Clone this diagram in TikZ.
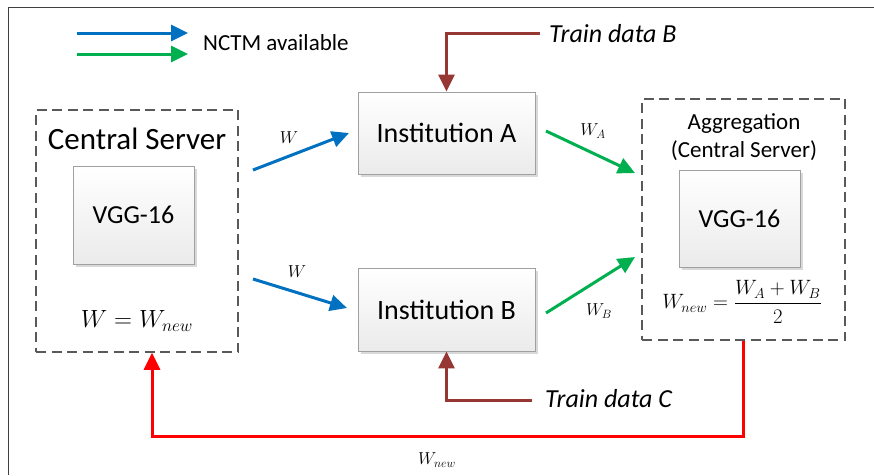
\documentclass[tikz,border=0pt]{standalone}
\usepackage{fontspec}
\setmainfont{Carlito}
\usepackage{amsmath}
\usetikzlibrary{arrows.meta,shadows,calc}
\definecolor{cblue}{RGB}{0,112,192}
\definecolor{cgreen}{RGB}{0,176,80}
\definecolor{cbrown}{RGB}{150,55,52}
\definecolor{cred}{RGB}{255,0,0}
\definecolor{dashgray}{RGB}{89,89,89}
\definecolor{boxgray}{RGB}{160,160,160}
\tikzset{
  solidbox/.style={draw=boxgray, line width=0.8pt, top color=white, bottom color=black!8,
    drop shadow={shadow xshift=3pt, shadow yshift=-3pt, opacity=0.25, fill=black!60},
    inner sep=0pt, align=center},
  dashbox/.style={draw=dashgray, line width=1.6pt, dash pattern=on 10pt off 5.5pt, inner sep=0pt},
  flow/.style={line width=3pt, -{Triangle[length=17pt,width=16pt]}},
  lbl/.style={inner sep=0pt},
}
\begin{document}
\begin{tikzpicture}[x=1pt,y=-1pt]
\useasboundingbox (0,0) rectangle (874,475);
% frame
\draw[line width=1pt, black!75] (8,475) -- (8,7) -- (874,7);

% legend
\coordinate (l1a) at (77,33); \coordinate (l1b) at (188,33);
\coordinate (l2a) at (77,54); \coordinate (l2b) at (188,54);
\draw[flow, cblue] (l1a) -- (l1b);
\draw[flow, cgreen] (l2a) -- (l2b);
\node[lbl, anchor=west, font=\fontsize{23}{26}\selectfont] (leg) at (203,43) {NCTM available};

% central server
\node[dashbox, minimum width=202pt, minimum height=242pt] (cs) at (137,231) {};
\node[lbl, font=\fontsize{31}{34}\selectfont] (cst) at (137,139) {Central Server};
\node[solidbox, minimum width=121pt, minimum height=98pt, font=\fontsize{26}{30}\selectfont] (vl) at (133.5,215) {VGG-16};
\node[lbl, font=\fontsize{23.5}{28}\selectfont] (eql) at (137,321) {$W = W_{new}$};

% institutions
\node[solidbox, minimum width=177pt, minimum height=82pt, font=\fontsize{28}{32}\selectfont] (ia) at (446.5,133) {Institution A};
\node[solidbox, minimum width=177pt, minimum height=83pt, font=\fontsize{28}{32}\selectfont] (ib) at (446.5,309.5) {Institution B};

% aggregation
\node[dashbox, minimum width=203pt, minimum height=241pt] (ag) at (743.5,219.5) {};
\node[lbl, align=center, font=\fontsize{23}{28}\selectfont] (agt) at (744,137) {Aggregation\\(Central Server)};
\node[solidbox, minimum width=121pt, minimum height=97pt, font=\fontsize{26}{30}\selectfont] (vr) at (739.5,218.5) {VGG-16};
\node[lbl, font=\fontsize{21}{25}\selectfont] (eqr) at (742,302) {$W_{new} = \dfrac{W_A + W_B}{2}$};

% blue arrows
\coordinate (b1s) at (253,170); \coordinate (b1e) at (349,133);
\coordinate (b2s) at (253,279); \coordinate (b2e) at (347,308);
\draw[flow, cblue] (b1s) -- (b1e);
\draw[flow, cblue] (b2s) -- (b2e);
\node[lbl, font=\fontsize{17}{20}\selectfont] (w1) at (289,138) {$W$};
\node[lbl, font=\fontsize{17}{20}\selectfont] (w2) at (297,272) {$W$};

% green arrows
\coordinate (g1s) at (546,131); \coordinate (g1e) at (635,173);
\coordinate (g2s) at (546,313); \coordinate (g2e) at (635,257);
\draw[flow, cgreen] (g1s) -- (g1e);
\draw[flow, cgreen] (g2s) -- (g2e);
\node[lbl, font=\fontsize{17}{20}\selectfont] (wa) at (593,131) {$W_A$};
\node[lbl, font=\fontsize{17}{20}\selectfont] (wb) at (599,311) {$W_B$};

% train data
\node[lbl, anchor=west, inner sep=0pt, font=\itshape\fontsize{26}{30}\selectfont] (tdb) at (549,34) {Train data B};
\node[lbl, anchor=west, inner sep=0pt, font=\itshape\fontsize{26}{30}\selectfont] (tdc) at (545,399) {Train data C};
\draw[flow, cbrown] ($(tdb.west)+(-9,-1)$) -| (ia.north);
\draw[flow, cbrown] ($(tdc.west)+(-13,1)$) -| (ib.south);

% red feedback
\coordinate (r1) at (152,436);
\draw[flow, cred] (ag.south) |- (r1) -- (r1 |- cs.south);
\node[lbl, font=\fontsize{17}{20}\selectfont] (wn) at (437,460) {$W_{new}$};
\end{tikzpicture}
\end{document}
